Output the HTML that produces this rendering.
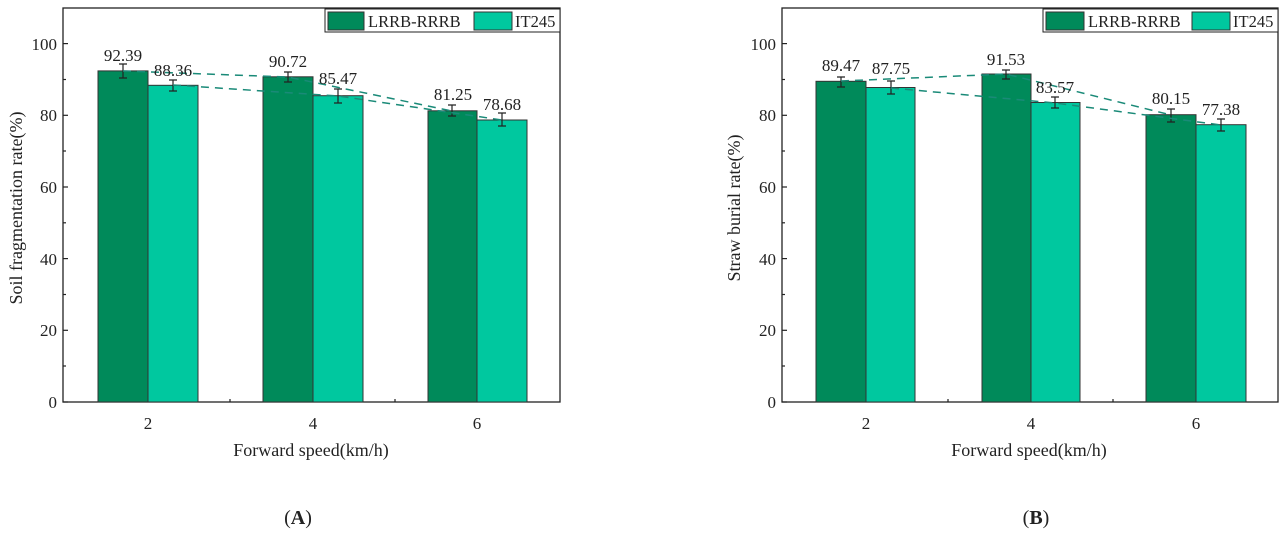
<!DOCTYPE html>
<html><head><meta charset="utf-8"><style>
body{margin:0;background:#fff;width:1280px;height:537px;overflow:hidden}
svg{font-family:"Liberation Serif",serif}
</style></head><body>
<svg width="1280" height="537" viewBox="0 0 1280 537">
<!-- LEFT CHART -->
<g fill="#222" font-size="17">
<rect x="63" y="8" width="497" height="394" fill="none" stroke="#222" stroke-width="1.3"/>
<g stroke="#222" stroke-width="1.2">
<line x1="63" y1="402" x2="68" y2="402"/><line x1="63" y1="330.3" x2="68" y2="330.3"/><line x1="63" y1="258.6" x2="68" y2="258.6"/><line x1="63" y1="187" x2="68" y2="187"/><line x1="63" y1="115.3" x2="68" y2="115.3"/><line x1="63" y1="43.6" x2="68" y2="43.6"/>
<line x1="63" y1="366" x2="66" y2="366"/><line x1="63" y1="294.5" x2="66" y2="294.5"/><line x1="63" y1="222.8" x2="66" y2="222.8"/><line x1="63" y1="151" x2="66" y2="151"/><line x1="63" y1="79.5" x2="66" y2="79.5"/>
<line x1="148" y1="402" x2="148" y2="397"/><line x1="313" y1="402" x2="313" y2="397"/><line x1="477" y1="402" x2="477" y2="397"/>
<line x1="230" y1="402" x2="230" y2="399"/><line x1="395" y1="402" x2="395" y2="399"/>
</g>
<g text-anchor="end"><text x="57" y="408">0</text><text x="57" y="336">20</text><text x="57" y="265">40</text><text x="57" y="193">60</text><text x="57" y="121">80</text><text x="57" y="50">100</text></g>
<g text-anchor="middle"><text x="148" y="429">2</text><text x="313" y="429">4</text><text x="477" y="429">6</text></g>
<text x="311" y="456" text-anchor="middle" font-size="18">Forward speed(km/h)</text>
<text transform="translate(22,208) rotate(-90)" text-anchor="middle" font-size="18">Soil fragmentation rate(%)</text>
<g stroke="#333" stroke-width="1">
<rect x="98" y="70.9" width="50" height="331.1" fill="#008a5a"/>
<rect x="148" y="85.3" width="50" height="316.7" fill="#00c89f"/>
<rect x="263" y="76.8" width="50" height="325.2" fill="#008a5a"/>
<rect x="313" y="95.7" width="50" height="306.3" fill="#00c89f"/>
<rect x="428" y="110.8" width="49" height="291.2" fill="#008a5a"/>
<rect x="477" y="120" width="50" height="282" fill="#00c89f"/>
</g>
<g stroke="#222" stroke-width="1.2" fill="none">
<path d="M123 64v14M119 64h8M119 78h8"/><path d="M173 80v11M169 80h8M169 91h8"/>
<path d="M288 72v10M284 72h8M284 82h8"/><path d="M338 89v14M334 89h8M334 103h8"/>
<path d="M452 105v11M448 105h8M448 116h8"/><path d="M502 113v13M498 113h8M498 126h8"/>
</g>
<g stroke="#1a8a78" stroke-width="1.5" stroke-dasharray="8,6" fill="none">
<path d="M123 71L288 77L452 111"/><path d="M173 85L338 96L502 120"/>
</g>
<g text-anchor="middle"><text x="123" y="61">92.39</text><text x="173" y="76">88.36</text><text x="288" y="67">90.72</text><text x="338" y="84">85.47</text><text x="453" y="100">81.25</text><text x="502" y="110">78.68</text></g>
<rect x="325" y="9" width="235" height="23" fill="#fff" stroke="#222" stroke-width="1"/>
<rect x="328" y="12" width="36" height="18" fill="#008a5a" stroke="#333"/>
<text x="368" y="27" font-size="16.5">LRRB-RRRB</text>
<rect x="474" y="12" width="38" height="18" fill="#00c89f" stroke="#333"/>
<text x="515" y="27" font-size="16.5">IT245</text>
<text x="298" y="524" text-anchor="middle" font-size="20">(<tspan font-weight="bold">A</tspan>)</text>
</g>

<!-- RIGHT CHART -->
<g fill="#222" font-size="17">
<rect x="782" y="8" width="496" height="394" fill="none" stroke="#222" stroke-width="1.3"/>
<g stroke="#222" stroke-width="1.2">
<line x1="782" y1="402" x2="787" y2="402"/><line x1="782" y1="330.3" x2="787" y2="330.3"/><line x1="782" y1="258.6" x2="787" y2="258.6"/><line x1="782" y1="187" x2="787" y2="187"/><line x1="782" y1="115.3" x2="787" y2="115.3"/><line x1="782" y1="43.6" x2="787" y2="43.6"/>
<line x1="782" y1="366" x2="785" y2="366"/><line x1="782" y1="294.5" x2="785" y2="294.5"/><line x1="782" y1="222.8" x2="785" y2="222.8"/><line x1="782" y1="151" x2="785" y2="151"/><line x1="782" y1="79.5" x2="785" y2="79.5"/>
<line x1="866" y1="402" x2="866" y2="397"/><line x1="1031" y1="402" x2="1031" y2="397"/><line x1="1196" y1="402" x2="1196" y2="397"/>
<line x1="948" y1="402" x2="948" y2="399"/><line x1="1113" y1="402" x2="1113" y2="399"/>
</g>
<g text-anchor="end"><text x="776" y="408">0</text><text x="776" y="336">20</text><text x="776" y="265">40</text><text x="776" y="193">60</text><text x="776" y="121">80</text><text x="776" y="50">100</text></g>
<g text-anchor="middle"><text x="866" y="429">2</text><text x="1031" y="429">4</text><text x="1196" y="429">6</text></g>
<text x="1029" y="456" text-anchor="middle" font-size="18">Forward speed(km/h)</text>
<text transform="translate(740,208) rotate(-90)" text-anchor="middle" font-size="18">Straw burial rate(%)</text>
<g stroke="#333" stroke-width="1">
<rect x="816" y="81.3" width="50" height="320.7" fill="#008a5a"/>
<rect x="866" y="87.5" width="49" height="314.5" fill="#00c89f"/>
<rect x="982" y="74" width="49" height="328" fill="#008a5a"/>
<rect x="1031" y="102.5" width="49" height="299.5" fill="#00c89f"/>
<rect x="1146" y="114.7" width="50" height="287.3" fill="#008a5a"/>
<rect x="1196" y="124.7" width="50" height="277.3" fill="#00c89f"/>
</g>
<g stroke="#222" stroke-width="1.2" fill="none">
<path d="M841 77v10M837 77h8M837 87h8"/><path d="M891 81v13M887 81h8M887 94h8"/>
<path d="M1006 70v9M1002 70h8M1002 79h8"/><path d="M1055 97v11M1051 97h8M1051 108h8"/>
<path d="M1171 109v13M1167 109h8M1167 122h8"/><path d="M1221 119v12M1217 119h8M1217 131h8"/>
</g>
<g stroke="#1a8a78" stroke-width="1.5" stroke-dasharray="8,6" fill="none">
<path d="M841 81L1006 74L1171 115"/><path d="M891 88L1055 103L1221 125"/>
</g>
<g text-anchor="middle"><text x="841" y="71">89.47</text><text x="891" y="74">87.75</text><text x="1006" y="65">91.53</text><text x="1055" y="93">83.57</text><text x="1171" y="104">80.15</text><text x="1221" y="115">77.38</text></g>
<rect x="1043" y="9" width="235" height="23" fill="#fff" stroke="#222" stroke-width="1"/>
<rect x="1046" y="12" width="38" height="18" fill="#008a5a" stroke="#333"/>
<text x="1088" y="27" font-size="16.5">LRRB-RRRB</text>
<rect x="1192" y="12" width="38" height="18" fill="#00c89f" stroke="#333"/>
<text x="1233" y="27" font-size="16.5">IT245</text>
<text x="1036" y="524" text-anchor="middle" font-size="20">(<tspan font-weight="bold">B</tspan>)</text>
</g>
</svg>
</body></html>
